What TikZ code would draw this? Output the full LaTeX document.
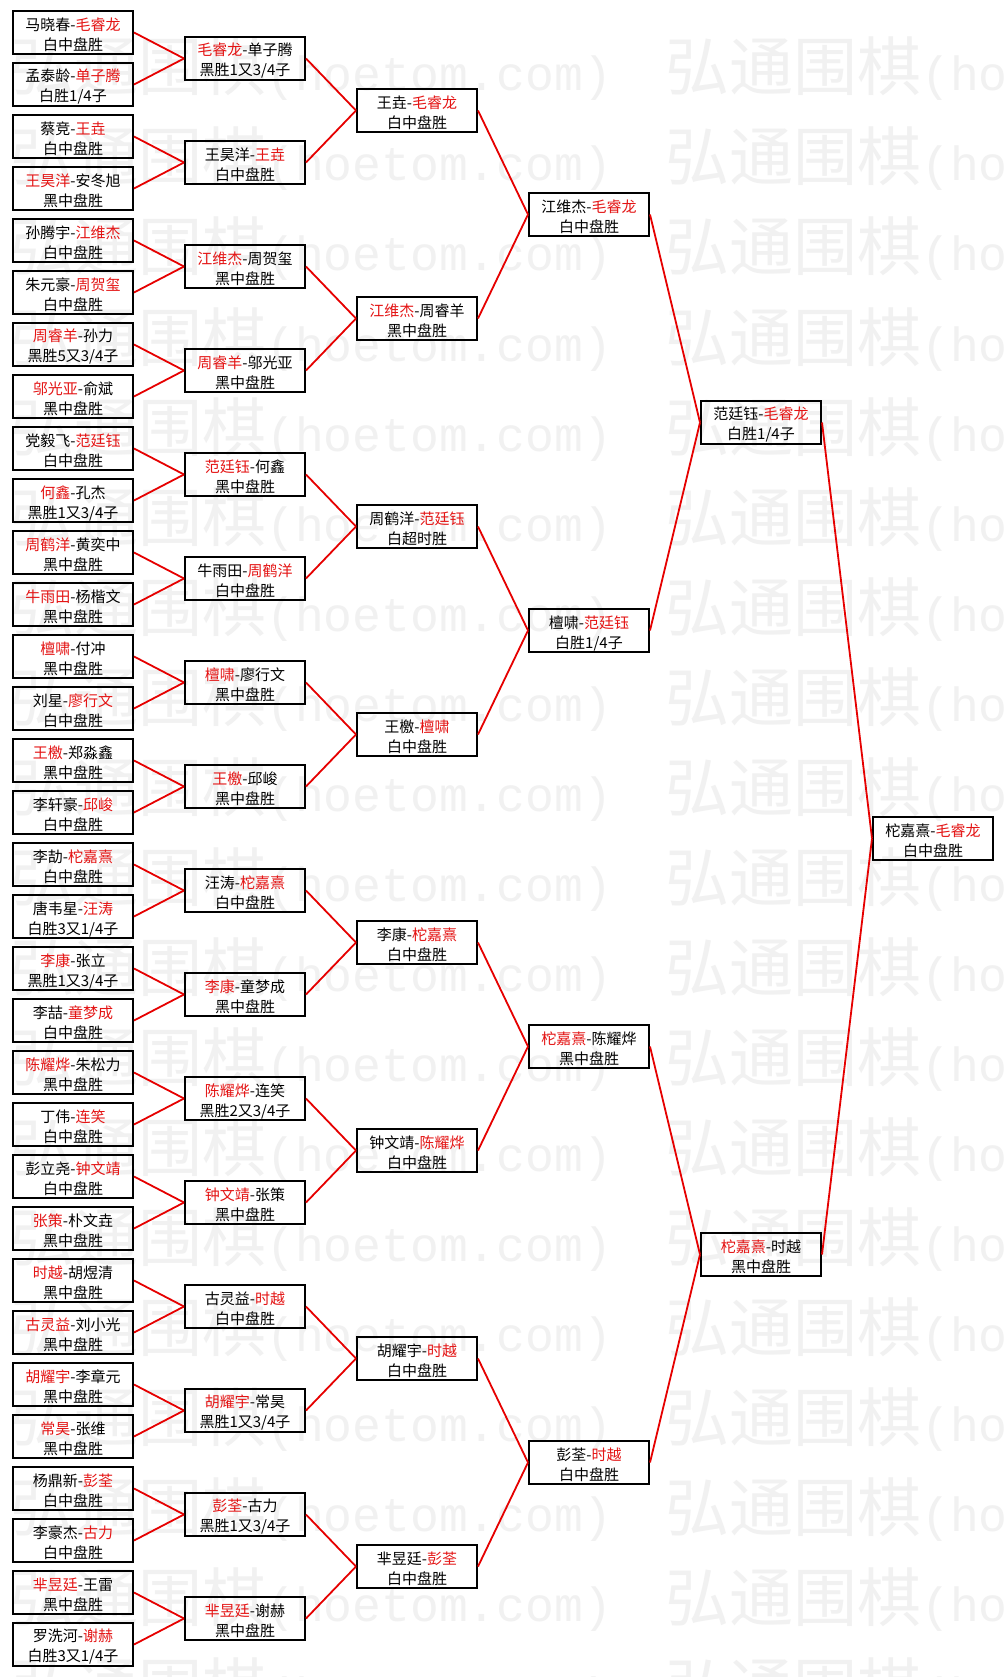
\documentclass[tikz,border=0pt]{standalone}
\usepackage{fontspec}
\newfontfamily\cjk{Noto Sans CJK SC}
\newfontfamily\wmmono{Liberation Mono}
\definecolor{lred}{RGB}{230,0,0}
\definecolor{tred}{RGB}{228,20,20}
\definecolor{wmgray}{RGB}{241,241,241}
\newcommand\R[1]{\textcolor{tred}{#1}}
\tikzset{
  mbox/.style={draw=black, line width=2pt, minimum width=120pt, minimum height=43pt, inner sep=0pt},
  txt/.style={align=center, font=\cjk\fontsize{15}{20}\selectfont, inner sep=0pt, text=black},
  edge/.style={draw=lred, line width=1.8pt},
  wm/.style={anchor=base west, inner sep=0pt, text=wmgray, font=\cjk\fontsize{64}{64}\selectfont}
}
\newcommand\B[4]{%
  \pgfmathsetmacro\bx{73+172*#1}%
  \pgfmathsetmacro\by{32.5+52*(2^#1*#2+(2^#1-1)/2)}%
  \node[mbox] (c#1n#2) at (\bx,\by) {};
  \node[txt] (t#1n#2) at ([yshift=-2.5pt]c#1n#2.center) {#3\\#4};}
\begin{document}
\begin{tikzpicture}[x=1pt,y=-1pt]
\useasboundingbox (0,0) rectangle (1005,1677);
\fill[white] (0,0) rectangle (1005,1677);
% watermark
\foreach \k in {0,...,18}{
  \foreach \x in {10,665}{
    \node[wm] (wm\k x\x) at (\x,{91+90*\k}) {弘通围棋{\wmmono\fontsize{48}{48}\selectfont(hoetom.com)}};
  }
}
% round 1
\B{0}{0}{马晓春-\R{毛睿龙}}{白中盘胜}
\B{0}{1}{孟泰龄-\R{单子腾}}{白胜1/4子}
\B{0}{2}{蔡竞-\R{王垚}}{白中盘胜}
\B{0}{3}{\R{王昊洋}-安冬旭}{黑中盘胜}
\B{0}{4}{孙腾宇-\R{江维杰}}{白中盘胜}
\B{0}{5}{朱元豪-\R{周贺玺}}{白中盘胜}
\B{0}{6}{\R{周睿羊}-孙力}{黑胜5又3/4子}
\B{0}{7}{\R{邬光亚}-俞斌}{黑中盘胜}
\B{0}{8}{党毅飞-\R{范廷钰}}{白中盘胜}
\B{0}{9}{\R{何鑫}-孔杰}{黑胜1又3/4子}
\B{0}{10}{\R{周鹤洋}-黄奕中}{黑中盘胜}
\B{0}{11}{\R{牛雨田}-杨楷文}{黑中盘胜}
\B{0}{12}{\R{檀啸}-付冲}{黑中盘胜}
\B{0}{13}{刘星-\R{廖行文}}{白中盘胜}
\B{0}{14}{\R{王檄}-郑淼鑫}{黑中盘胜}
\B{0}{15}{李轩豪-\R{邱峻}}{白中盘胜}
\B{0}{16}{李劼-\R{柁嘉熹}}{白中盘胜}
\B{0}{17}{唐韦星-\R{汪涛}}{白胜3又1/4子}
\B{0}{18}{\R{李康}-张立}{黑胜1又3/4子}
\B{0}{19}{李喆-\R{童梦成}}{白中盘胜}
\B{0}{20}{\R{陈耀烨}-朱松力}{黑中盘胜}
\B{0}{21}{丁伟-\R{连笑}}{白中盘胜}
\B{0}{22}{彭立尧-\R{钟文靖}}{白中盘胜}
\B{0}{23}{\R{张策}-朴文垚}{黑中盘胜}
\B{0}{24}{\R{时越}-胡煜清}{黑中盘胜}
\B{0}{25}{\R{古灵益}-刘小光}{黑中盘胜}
\B{0}{26}{\R{胡耀宇}-李章元}{黑中盘胜}
\B{0}{27}{\R{常昊}-张维}{黑中盘胜}
\B{0}{28}{杨鼎新-\R{彭荃}}{白中盘胜}
\B{0}{29}{李豪杰-\R{古力}}{白中盘胜}
\B{0}{30}{\R{芈昱廷}-王雷}{黑中盘胜}
\B{0}{31}{罗洗河-\R{谢赫}}{白胜3又1/4子}
% round 2
\B{1}{0}{\R{毛睿龙}-单子腾}{黑胜1又3/4子}
\B{1}{1}{王昊洋-\R{王垚}}{白中盘胜}
\B{1}{2}{\R{江维杰}-周贺玺}{黑中盘胜}
\B{1}{3}{\R{周睿羊}-邬光亚}{黑中盘胜}
\B{1}{4}{\R{范廷钰}-何鑫}{黑中盘胜}
\B{1}{5}{牛雨田-\R{周鹤洋}}{白中盘胜}
\B{1}{6}{\R{檀啸}-廖行文}{黑中盘胜}
\B{1}{7}{\R{王檄}-邱峻}{黑中盘胜}
\B{1}{8}{汪涛-\R{柁嘉熹}}{白中盘胜}
\B{1}{9}{\R{李康}-童梦成}{黑中盘胜}
\B{1}{10}{\R{陈耀烨}-连笑}{黑胜2又3/4子}
\B{1}{11}{\R{钟文靖}-张策}{黑中盘胜}
\B{1}{12}{古灵益-\R{时越}}{白中盘胜}
\B{1}{13}{\R{胡耀宇}-常昊}{黑胜1又3/4子}
\B{1}{14}{\R{彭荃}-古力}{黑胜1又3/4子}
\B{1}{15}{\R{芈昱廷}-谢赫}{黑中盘胜}
% round 3
\B{2}{0}{王垚-\R{毛睿龙}}{白中盘胜}
\B{2}{1}{\R{江维杰}-周睿羊}{黑中盘胜}
\B{2}{2}{周鹤洋-\R{范廷钰}}{白超时胜}
\B{2}{3}{王檄-\R{檀啸}}{白中盘胜}
\B{2}{4}{李康-\R{柁嘉熹}}{白中盘胜}
\B{2}{5}{钟文靖-\R{陈耀烨}}{白中盘胜}
\B{2}{6}{胡耀宇-\R{时越}}{白中盘胜}
\B{2}{7}{芈昱廷-\R{彭荃}}{白中盘胜}
% round 4
\B{3}{0}{江维杰-\R{毛睿龙}}{白中盘胜}
\B{3}{1}{檀啸-\R{范廷钰}}{白胜1/4子}
\B{3}{2}{\R{柁嘉熹}-陈耀烨}{黑中盘胜}
\B{3}{3}{彭荃-\R{时越}}{白中盘胜}
% round 5
\B{4}{0}{范廷钰-\R{毛睿龙}}{白胜1/4子}
\B{4}{1}{\R{柁嘉熹}-时越}{黑中盘胜}
% final
\B{5}{0}{柁嘉熹-\R{毛睿龙}}{白中盘胜}
% connectors
\foreach \k in {1,...,5}{
  \pgfmathtruncatemacro\nn{2^(5-\k)-1}
  \pgfmathtruncatemacro\pp{\k-1}
  \foreach \j in {0,...,\nn}{
    \pgfmathtruncatemacro\aa{2*\j}
    \pgfmathtruncatemacro\bb{2*\j+1}
    \draw[edge] (c\pp n\aa.east) -- (c\k n\j.west);
    \draw[edge] (c\pp n\bb.east) -- (c\k n\j.west);
  }
}
\end{tikzpicture}
\end{document}
